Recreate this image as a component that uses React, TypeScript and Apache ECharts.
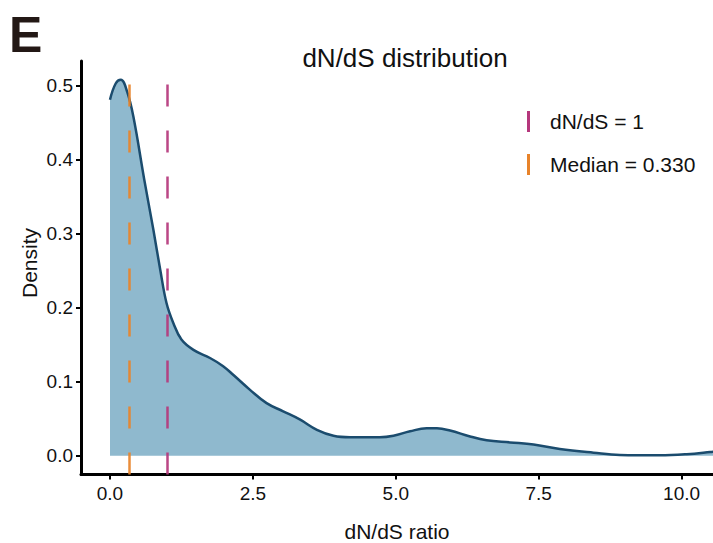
import React, { useEffect, useRef } from "react";
import * as echarts from "echarts";

// Kernel density estimate of dN/dS ratios (x = ratio, y = density)
const ratioGrid = [
  0, 0.1, 0.19, 0.3, 0.41, 0.6, 0.76, 0.88, 0.99, 1.11, 1.25, 1.46, 1.75, 1.98,
  2.16, 2.45, 2.74, 3.03, 3.32, 3.62, 3.91, 4.2, 4.37, 4.72, 4.96, 5.25, 5.54,
  5.72, 5.95, 6.3, 6.59, 7.0, 7.41, 7.87, 8.46, 8.92, 9.62, 10.09, 10.5, 10.6,
];
const densityValues = [
  0.481, 0.503, 0.508, 0.492, 0.458, 0.373, 0.305, 0.251, 0.206, 0.179, 0.157,
  0.143, 0.132, 0.121, 0.109, 0.089, 0.071, 0.06, 0.049, 0.035, 0.027, 0.025,
  0.025, 0.025, 0.027, 0.033, 0.037, 0.037, 0.034, 0.026, 0.021, 0.018, 0.015,
  0.009, 0.004, 0.001, 0.0005, 0.002, 0.005, 0.006,
];

// Reference lines
const neutralRatio = 1;
const medianRatio = 0.33;

// Axis ranges and tick labels
const xRange = [-0.507, 10.55];
const yRange = [-0.0254, 0.5334];
const xTicks = [0, 2.5, 5, 7.5, 10];
const yTicks = [0, 0.1, 0.2, 0.3, 0.4, 0.5];

const FONT = "'Liberation Sans', Arial, Helvetica, sans-serif";
const FILL = "#8FB9CE";
const CURVE = "#1B4C6E";
const MAGENTA = "#B5377C";
const ORANGE = "#E8832A";

function vline(x: number) {
  return [
    { coord: [x, yRange[0]] },
    { coord: [x, yRange[1]] },
  ];
}

export default function App() {
  const ref = useRef<HTMLDivElement>(null);

  useEffect(() => {
    if (!ref.current) return;
    document.body.style.margin = "0";
    document.body.style.overflow = "hidden";
    const chart = echarts.init(ref.current, null, { renderer: "svg" });

    const density = ratioGrid.map((x, i) => [x, densityValues[i]]);

    const refLineSeries = (name: string, x: number, color: string) => ({
      name,
      type: "line",
      data: [],
      color,
      itemStyle: { color },
      lineStyle: { color },
      markLine: {
        silent: true,
        symbol: ["none", "none"],
        label: { show: false },
        emphasis: { disabled: true },
        lineStyle: {
          color,
          width: 2.5,
          type: [22, 24],
          opacity: 0.92,
        },
        data: [vline(x)],
      },
      z: 5,
    });

    chart.setOption({
      animation: false,
      backgroundColor: "#ffffff",
      textStyle: { fontFamily: FONT },
      grid: {
        left: 81,
        right: 0,
        top: 61,
        bottom: 68.5,
        containLabel: false,
        outerBoundsMode: "none",
      },
      legend: {
        orient: "vertical",
        left: 527,
        top: 111,
        padding: 0,
        itemWidth: 3,
        itemHeight: 21,
        itemGap: 22,
        icon: "rect",
        selectedMode: false,
        data: ["dN/dS = 1", "Median = 0.330"],
        textStyle: {
          fontFamily: FONT,
          fontSize: 21,
          color: "#111",
          padding: [0, 0, 0, 15],
        },
      },
      xAxis: {
        type: "value",
        min: xRange[0],
        max: xRange[1],
        name: "dN/dS ratio",
        nameLocation: "middle",
        nameGap: 48,
        nameTextStyle: {
          fontFamily: FONT,
          fontSize: 21,
          lineHeight: 18,
          color: "#111",
        },
        axisLine: { show: true, onZero: false, lineStyle: { color: "#000", width: 3 } },
        axisTick: {
          show: true,
          length: 5,
          customValues: xTicks,
          lineStyle: { color: "#000", width: 2 },
        },
        axisLabel: {
          customValues: xTicks,
          margin: 9,
          fontFamily: FONT,
          fontSize: 19,
          color: "#111",
          formatter: (v: number) => v.toFixed(1),
        },
        splitLine: { show: false },
      },
      yAxis: {
        type: "value",
        min: yRange[0],
        max: yRange[1],
        axisLine: { show: true, onZero: false, lineStyle: { color: "#000", width: 3 } },
        axisTick: {
          show: true,
          length: 5,
          customValues: yTicks,
          lineStyle: { color: "#000", width: 2 },
        },
        axisLabel: {
          customValues: yTicks,
          margin: 8,
          fontFamily: FONT,
          fontSize: 19,
          color: "#111",
          formatter: (v: number) => v.toFixed(1),
        },
        splitLine: { show: false },
      },
      graphic: [
        {
          type: "text",
          left: 9,
          top: 10,
          style: {
            text: "E",
            fontFamily: FONT,
            fontWeight: "bold",
            fontSize: 50,
            fill: "#231815",
          },
        },
        {
          type: "text",
          x: 405,
          y: 57.5,
          style: {
            text: "dN/dS distribution",
            fontFamily: FONT,
            fontSize: 26,
            fill: "#111",
            align: "center",
            verticalAlign: "middle",
          },
        },
        {
          type: "text",
          x: 29.4,
          y: 263,
          rotation: Math.PI / 2,
          style: {
            text: "Density",
            fontFamily: FONT,
            fontSize: 21,
            fill: "#111",
            align: "center",
            verticalAlign: "middle",
          },
        },
      ],
      series: [
        {
          name: "density",
          type: "line",
          data: density,
          smooth: 0.4,
          showSymbol: false,
          symbol: "none",
          lineStyle: { color: CURVE, width: 2.5 },
          areaStyle: { color: FILL, opacity: 1 },
          itemStyle: { color: CURVE },
          emphasis: { disabled: true },
          z: 2,
        },
        refLineSeries("dN/dS = 1", neutralRatio, MAGENTA),
        refLineSeries("Median = 0.330", medianRatio, ORANGE),
      ],
    });

    return () => chart.dispose();
  }, []);

  return (
    <div
      ref={ref}
      style={{ position: "fixed", left: 0, top: 0, width: 713, height: 543 }}
    />
  );
}
